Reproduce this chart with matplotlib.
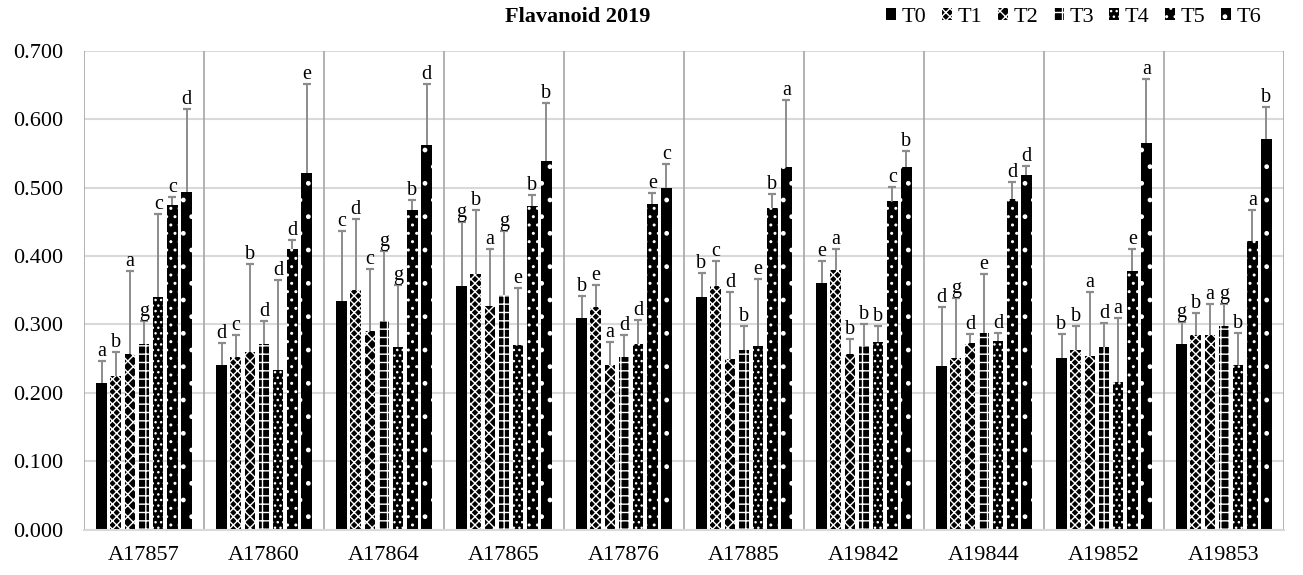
import numpy as np
import matplotlib.pyplot as plt

plt.rcParams['font.family'] = ['Liberation Serif', 'DejaVu Serif']
plt.rcParams['hatch.linewidth'] = 1.0

clones = ['A17857', 'A17860', 'A17864', 'A17865', 'A17876',
          'A17885', 'A19842', 'A19844', 'A19852', 'A19853']
treatments = ['T0', 'T1', 'T2', 'T3', 'T4', 'T5', 'T6']

# mean flavanoid per treatment, one value per clone
T0 = [0.214, 0.240, 0.335, 0.356, 0.309, 0.340, 0.361, 0.239, 0.251, 0.271]
T1 = [0.224, 0.252, 0.351, 0.374, 0.325, 0.356, 0.379, 0.251, 0.263, 0.284]
T2 = [0.257, 0.259, 0.291, 0.327, 0.240, 0.249, 0.257, 0.273, 0.254, 0.284]
T3 = [0.271, 0.272, 0.305, 0.343, 0.252, 0.262, 0.269, 0.287, 0.267, 0.298]
T4 = [0.340, 0.234, 0.267, 0.270, 0.272, 0.269, 0.274, 0.276, 0.216, 0.241]
T5 = [0.474, 0.410, 0.467, 0.473, 0.476, 0.470, 0.480, 0.483, 0.378, 0.422]
T6 = [0.494, 0.521, 0.562, 0.539, 0.499, 0.530, 0.531, 0.519, 0.565, 0.571]

# standard deviation (upper bars only)
T0_err = [0.032, 0.033, 0.102, 0.094, 0.032, 0.035, 0.032, 0.087, 0.035, 0.033]
T1_err = [0.035, 0.033, 0.103, 0.094, 0.032, 0.037, 0.032, 0.087, 0.035, 0.033]
T2_err = [0.121, 0.130, 0.090, 0.084, 0.035, 0.099, 0.022, 0.013, 0.094, 0.046]
T3_err = [0.034, 0.033, 0.103, 0.094, 0.033, 0.036, 0.032, 0.087, 0.035, 0.032]
T4_err = [0.121, 0.131, 0.090, 0.084, 0.035, 0.098, 0.023, 0.012, 0.094, 0.046]
T5_err = [0.013, 0.013, 0.015, 0.016, 0.017, 0.021, 0.021, 0.025, 0.032, 0.045]
T6_err = [0.121, 0.131, 0.090, 0.085, 0.035, 0.099, 0.022, 0.013, 0.094, 0.047]

# significance letters
T0_sig = ['a', 'd', 'c', 'g', 'b', 'b', 'e', 'd', 'b', 'g']
T1_sig = ['b', 'c', 'd', 'b', 'e', 'c', 'a', 'g', 'b', 'b']
T2_sig = ['a', 'b', 'c', 'a', 'a', 'd', 'b', 'd', 'a', 'a']
T3_sig = ['g', 'd', 'g', 'g', 'd', 'b', 'b', 'e', 'd', 'g']
T4_sig = ['c', 'd', 'g', 'e', 'd', 'e', 'b', 'd', 'a', 'b']
T5_sig = ['c', 'd', 'b', 'b', 'e', 'b', 'c', 'd', 'e', 'a']
T6_sig = ['d', 'e', 'd', 'b', 'c', 'a', 'b', 'd', 'a', 'b']

means = [T0, T1, T2, T3, T4, T5, T6]
errs = [T0_err, T1_err, T2_err, T3_err, T4_err, T5_err, T6_err]
sigs = [T0_sig, T1_sig, T2_sig, T3_sig, T4_sig, T5_sig, T6_sig]

# fill / hatch / hatch colour per treatment
styles = [
    ('black', '', 'black'),
    ('black', 'xxxx', 'white'),
    ('black', 'xxx', 'white'),
    ('black', '++', 'white'),
    ('black', '...', 'white'),
    ('black', '..', 'white'),
    ('black', '.', 'white'),
]

fig = plt.figure(figsize=(13.03, 5.75), dpi=100)
ax = fig.add_axes([0.0645, 0.0791, 0.9209, 0.8322])

x = np.arange(len(clones))
step = 0.118
width = 0.0875
for i, t in enumerate(treatments):
    xs = x + (i - 3) * step
    m = np.array(means[i])
    e = np.array(errs[i])
    fc, hatch, hc = styles[i]
    ax.bar(xs, m, width, color=fc, hatch=hatch, edgecolor=hc, linewidth=0,
           label=t, zorder=2)
    ax.vlines(xs, m, m + e, color='#8c8c8c', linewidth=1.4, zorder=3)
    ax.plot(xs, m + e, linestyle='none', marker='_', markersize=6,
            markeredgewidth=1.6, color='#8c8c8c', zorder=3)
    for xi, top, s in zip(xs, m + e, sigs[i]):
        ax.annotate(s, (xi, top), xytext=(0, 0), textcoords='offset points',
                    ha='center', va='bottom', fontsize=14.5, zorder=4)

ax.set_xlim(-0.5, len(clones) - 0.5)
ax.set_ylim(0, 0.7)
ax.set_yticks(np.arange(0, 0.71, 0.1))
ax.set_yticklabels(['%.3f' % v for v in np.arange(0, 0.71, 0.1)])
ax.set_xticks(x)
ax.set_xticklabels(clones)
ax.tick_params(axis='both', length=0, labelsize=16)
ax.tick_params(axis='y', pad=15)
ax.tick_params(axis='x', pad=12)

ax.yaxis.grid(True, color='#d9d9d9', linewidth=1.5, zorder=0)
ax.set_axisbelow(True)
for b in np.arange(-0.5, len(clones), 1.0):
    ax.axvline(b, color='#a6a6a6', linewidth=1.2, zorder=1)
for s in ['top', 'right', 'left']:
    ax.spines[s].set_visible(False)
ax.spines['bottom'].set_color('#d9d9d9')
ax.spines['bottom'].set_linewidth(1.5)

fig.text(0.4436, 0.970, 'Flavanoid 2019', ha='center', va='center',
         fontsize=16, fontweight='bold')
fig.legend(loc='center right', bbox_to_anchor=(0.968, 0.970), ncol=7,
           frameon=False, fontsize=16, handlelength=0.45, handleheight=0.45,
           handletextpad=0.25, columnspacing=0.7, borderpad=0, borderaxespad=0)

fig.savefig('out.png', dpi=100)
